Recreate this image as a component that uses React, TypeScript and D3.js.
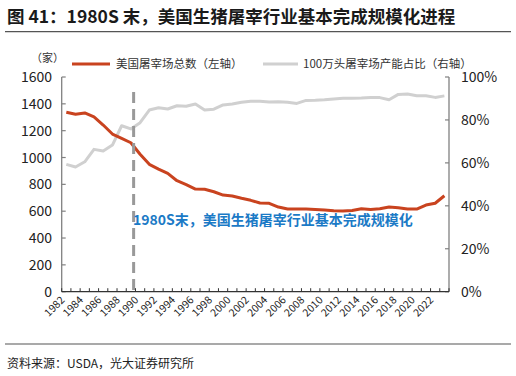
import React from "react";
import * as d3 from "d3";

const years: string[] = [];
for (let y = 1982; y <= 2023; y++) years.push(String(y));

const plantCount = [1337, 1322, 1332, 1302, 1242, 1175, 1143, 1110, 1024, 949, 914, 882, 827, 798, 765, 763, 745, 720, 713, 696, 681, 661, 659, 631, 616, 616, 616, 613, 609, 604, 601, 605, 618, 612, 618, 631, 626, 616, 616, 646, 659, 715];
const bigShare = [59.3, 58.1, 60.5, 66.3, 65.5, 68.3, 77.3, 75.8, 78.7, 84.6, 85.7, 85.1, 86.6, 86.4, 87.4, 84.6, 85.0, 87.0, 87.4, 88.2, 88.7, 88.7, 88.4, 88.5, 88.2, 87.7, 89.1, 89.2, 89.4, 89.8, 90.1, 90.1, 90.2, 90.4, 90.4, 89.4, 91.9, 92.1, 91.3, 91.3, 90.5, 91.2];
const leftTicks = [0, 200, 400, 600, 800, 1000, 1200, 1400, 1600];
const rightTicks = [0, 20, 40, 60, 80, 100];

const title = "图 41：1980S 末，美国生猪屠宰行业基本完成规模化进程";
const unitLabel = "（家）";
const legend1 = "美国屠宰场总数（左轴）";
const legend2 = "100万头屠宰场产能占比（右轴）";
const annotation = "1980S末，美国生猪屠宰行业基本完成规模化";
const source = "资料来源：USDA，光大证券研究所";
const markerYear = "1990";

const FONT = "'Noto Sans CJK SC', 'Noto Sans', sans-serif";
const RED = "#c9431f";
const GREY = "#d0d0d0";

export default function App() {
  const left = 61.7, right = 449, top = 77, bottom = 291.7;
  const x = d3.scaleBand<string>().domain(years).range([left, right]);
  const yL = d3.scaleLinear().domain([0, 1600]).range([bottom, top]);
  const yR = d3.scaleLinear().domain([0, 100]).range([bottom, top]);
  const cx = (y: string) => (x(y) as number) + x.bandwidth() / 2;

  const redLine = d3.line<number>().x((_, i) => cx(years[i])).y((d) => yL(d))(plantCount) || "";
  const greyLine = d3.line<number>().x((_, i) => cx(years[i])).y((d) => yR(d))(bigShare) || "";

  const markX = (x(markerYear) as number) - x.bandwidth() * 0.2;
  const boundaries = years.map((y) => x(y) as number).concat([right]);

  return (
    <svg width={516} height={376} style={{ position: "absolute", left: 0, top: 0, background: "#fff" }} fontFamily={FONT}>
      <text x={7} y={23} fontSize={17.5} fontWeight="bold" fill="#1a1a1a">{title}</text>
      <line x1={5} x2={511} y1={31.7} y2={31.7} stroke="#555" strokeWidth={1.2} />

      {/* legend */}
      <text x={31} y={62} fontSize={11} fill="#333">{unitLabel}</text>
      <line x1={72} x2={110} y1={64} y2={64} stroke={RED} strokeWidth={3} />
      <text x={116} y={68} fontSize={11.5} fill="#333">{legend1}</text>
      <line x1={263} x2={298} y1={64} y2={64} stroke={GREY} strokeWidth={3} />
      <text x={303} y={68} fontSize={11.5} fill="#333">{legend2}</text>

      {/* axes */}
      <line x1={left} x2={left} y1={top} y2={bottom} stroke="#808080" strokeWidth={1.3} />
      <line x1={right} x2={right} y1={top} y2={bottom} stroke="#808080" strokeWidth={1.3} />
      {leftTicks.map((t) => (
        <g key={"l" + t}>
          <line x1={left} x2={left + 4} y1={yL(t)} y2={yL(t)} stroke="#808080" strokeWidth={1.2} />
          <text x={52} y={yL(t) + 5} fontSize={14} textAnchor="end" fill="#222">{t}</text>
        </g>
      ))}
      {rightTicks.map((t) => (
        <g key={"r" + t}>
          <line x1={right - 4} x2={right} y1={yR(t)} y2={yR(t)} stroke="#808080" strokeWidth={1.2} />
          <text x={461} y={yR(t) + 5} fontSize={14} fill="#222">{t + "%"}</text>
        </g>
      ))}

      {/* lines */}
      <path d={greyLine} fill="none" stroke={GREY} strokeWidth={3} strokeLinejoin="round" />
      <path d={redLine} fill="none" stroke={RED} strokeWidth={3} strokeLinejoin="round" />

      {/* marker */}
      <line x1={markX} x2={markX} y1={92} y2={bottom} stroke="#999" strokeWidth={3} strokeDasharray="11,6" />
      <text x={133} y={225} fontSize={14} fontWeight="bold" fill="#1b7ac6">{annotation}</text>

      {/* x axis */}
      <line x1={left} x2={right} y1={bottom} y2={bottom} stroke="#333" strokeWidth={1.3} />
      {boundaries.map((b, i) => (
        <line key={"t" + i} x1={b} x2={b} y1={bottom - 3.5} y2={bottom} stroke="#333" strokeWidth={1} />
      ))}
      {years.filter((_, i) => i % 2 === 0).map((y) => (
        <text key={y} transform={`translate(${cx(y) - 1},${bottom + 9}) rotate(-45)`} fontSize={10.5} textAnchor="end" fill="#222">{y}</text>
      ))}

      <line x1={5} x2={511} y1={344} y2={344} stroke="#555" strokeWidth={1.2} />
      <text x={7} y={368} fontSize={12} fill="#222">{source}</text>
    </svg>
  );
}
